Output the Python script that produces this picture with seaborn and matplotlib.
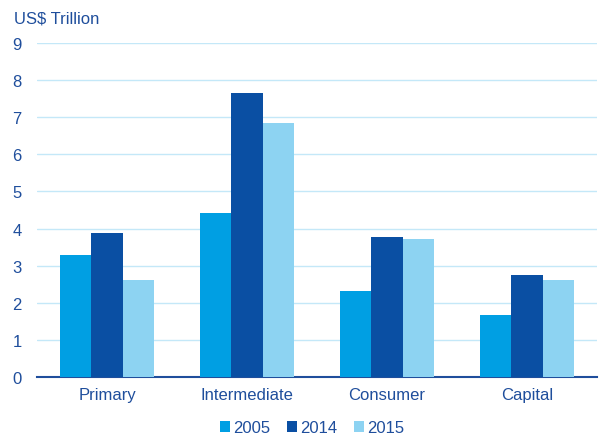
import matplotlib
matplotlib.use("Agg")
import matplotlib.pyplot as plt
import seaborn as sns
import pandas as pd
from matplotlib.ticker import FixedLocator

categories = ["Primary", "Intermediate", "Consumer", "Capital"]
years = ["2005", "2014", "2015"]
values_2005 = [3.29, 4.43, 2.31, 1.66]
values_2014 = [3.87, 7.65, 3.77, 2.75]
values_2015 = [2.62, 6.85, 3.71, 2.62]
y_ticks = [0, 1, 2, 3, 4, 5, 6, 7, 8, 9]

colors = ["#009FE3", "#0A4FA3", "#8DD3F2"]
text_blue = "#1F4E9C"
grid_blue = "#C4E8F8"

df = pd.DataFrame({
    "Category": categories * 3,
    "Year": [y for y in years for _ in categories],
    "Value": values_2005 + values_2014 + values_2015,
})

sns.set_style("white")
plt.rcParams["font.family"] = ["Liberation Sans", "DejaVu Sans"]

fig = plt.figure(figsize=(6.0, 4.39), dpi=100)
ax = fig.add_axes([37 / 600, (439 - 378) / 439, 560 / 600, (378 - 44) / 439])

sns.barplot(data=df, x="Category", y="Value", hue="Year", order=categories,
            hue_order=years, palette=colors, width=0.67, gap=0,
            linewidth=0, saturation=1, ax=ax, zorder=3)

ax.set_ylim(0, 9)
ax.set_xlim(-0.5, 3.5)
ax.set_yticks(y_ticks)
ax.yaxis.grid(True, color=grid_blue, linewidth=1, zorder=0)
ax.set_axisbelow(True)
ax.set_xlabel("")
ax.set_ylabel("")

for side in ["left", "right", "top"]:
    ax.spines[side].set_visible(False)
ax.spines["bottom"].set_color(text_blue)
ax.spines["bottom"].set_linewidth(1.5)

ax.tick_params(axis="x", which="major", length=0, pad=7, labelsize=12, labelcolor=text_blue)
ax.tick_params(axis="y", which="major", length=0, pad=11, labelsize=12, labelcolor=text_blue)
ax.xaxis.set_minor_locator(FixedLocator([0.5, 1.5, 2.5, 3.5]))
ax.tick_params(axis="x", which="minor", length=6, width=1.2, color=text_blue, direction="out")

fig.text(14 / 600, 1 - 19 / 439, "US$ Trillion", color=text_blue, fontsize=12,
         ha="left", va="center")

handles, labels = ax.get_legend_handles_labels()
ax.legend(handles, labels, loc="center", bbox_to_anchor=(312 / 600, 1 - 429 / 439),
          bbox_transform=fig.transFigure, ncol=3, frameon=False, fontsize=12,
          handlelength=0.6, handleheight=0.6, handletextpad=0.2, columnspacing=1.0,
          labelcolor=text_blue)

fig.savefig("out.png", dpi=100)
